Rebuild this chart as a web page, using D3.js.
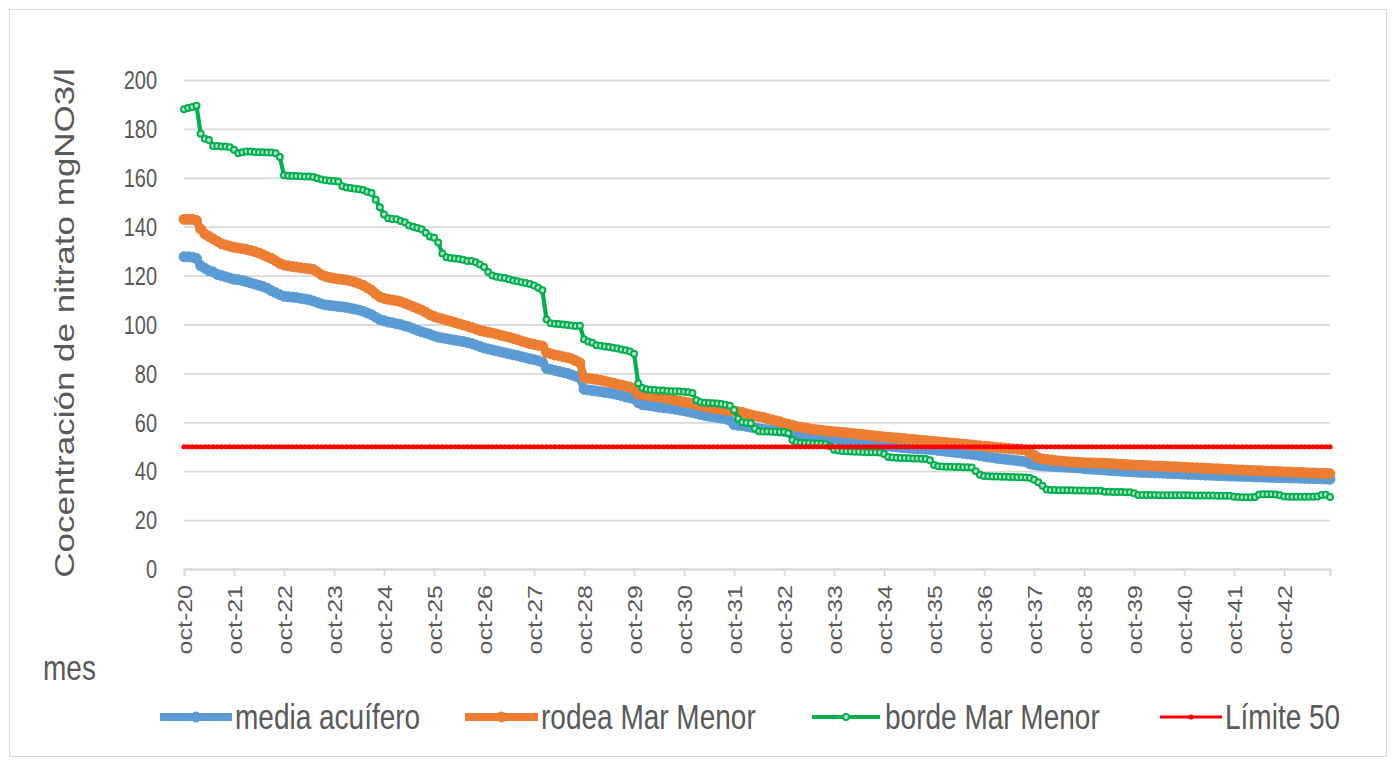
<!DOCTYPE html>
<html><head><meta charset="utf-8">
<script src="https://cdn.jsdelivr.net/npm/d3@7"></script>
<style>
body{margin:0;background:#fff}
svg{display:block}
text{font-family:"Liberation Sans",Arial,sans-serif;fill:#595959}
</style>
</head><body>
<svg id="chart" width="1396" height="766"></svg>
<script>
// ---- data (monthly, oct-2020 .. sep-2043) ----
const yearLabels = ["oct-20","oct-21","oct-22","oct-23","oct-24","oct-25","oct-26","oct-27","oct-28","oct-29","oct-30","oct-31","oct-32","oct-33","oct-34","oct-35","oct-36","oct-37","oct-38","oct-39","oct-40","oct-41","oct-42"];
const yTicks = [0,20,40,60,80,100,120,140,160,180,200];
const seriesNames = ["media acuífero","rodea Mar Menor","borde Mar Menor","Límite 50"];
const limite = 50;

const mediaAcuifero = [
127.7,127.7,127.5,127.0,124.0,123.0,122.0,121.5,120.5,120.0,119.5,119.0,
118.5,118.3,118.0,117.5,117.0,116.5,116.0,115.5,114.8,113.8,113.0,112.2,
111.5,111.4,111.2,111.0,110.7,110.4,110.1,109.6,109.0,108.4,108.0,107.8,
107.6,107.4,107.2,107.0,106.6,106.3,105.9,105.4,104.7,104.0,103.0,102.0,
101.5,101.0,100.7,100.3,100.0,99.4,99.0,98.3,97.6,97.0,96.5,96.0,
95.3,94.8,94.5,94.2,93.9,93.6,93.3,93.0,92.6,92.2,91.6,91.0,
90.4,90.0,89.6,89.2,88.8,88.4,88.0,87.6,87.3,86.8,86.4,86.0,
85.6,85.2,84.6,82.0,81.6,81.2,80.8,80.4,80.0,79.4,78.8,78.2,
73.5,73.2,73.0,72.8,72.5,72.2,72.0,71.7,71.3,70.9,70.4,70.0,
69.6,68.0,67.2,67.0,66.8,66.5,66.2,66.0,65.8,65.6,65.3,65.0,
64.7,64.3,64.0,63.6,63.2,62.8,62.5,62.2,62.0,61.7,61.4,60.8,
59.0,58.8,58.6,58.3,58.0,57.7,57.4,57.2,57.0,56.8,56.6,56.4,
56.2,56.0,55.3,55.0,54.8,54.6,54.4,54.2,54.0,53.8,53.5,53.3,
53.2,52.9,52.6,52.4,52.2,52.0,51.8,51.6,51.4,51.2,51.0,50.8,
50.5,50.3,50.1,49.9,49.7,49.6,49.4,49.3,49.2,49.1,49.0,48.9,
48.7,48.5,48.3,48.1,47.9,47.7,47.5,47.3,47.1,46.9,46.7,46.4,
46.1,45.8,45.6,45.3,45.1,44.9,44.7,44.5,44.3,44.1,43.9,43.0,
42.6,42.4,42.2,42.1,42.0,41.9,41.8,41.7,41.6,41.5,41.4,41.3,
41.0,40.9,40.8,40.7,40.6,40.5,40.3,40.2,40.1,40.0,39.9,39.8,
39.7,39.6,39.5,39.5,39.4,39.3,39.3,39.2,39.1,39.0,39.0,38.9,
38.8,38.7,38.7,38.6,38.5,38.4,38.4,38.3,38.2,38.2,38.1,38.0,
38.0,37.9,37.9,37.8,37.8,37.7,37.6,37.6,37.5,37.5,37.4,37.4,
37.3,37.3,37.2,37.2,37.1,37.1,37.0,37.0,36.9,36.9,36.8,36.7
];

const rodeaMarMenor = [
143.0,143.0,143.0,142.5,139.0,137.0,136.0,135.0,134.0,133.0,132.5,132.0,
131.6,131.3,131.0,130.7,130.3,129.8,129.2,128.5,127.7,127.0,126.0,125.0,
124.3,124.0,123.7,123.5,123.2,123.0,122.8,122.5,121.5,120.3,119.6,119.2,
118.9,118.6,118.4,118.2,117.8,117.3,116.7,116.0,115.0,114.0,112.5,111.3,
110.7,110.3,110.0,109.7,109.3,108.7,108.0,107.3,106.6,105.9,105.0,104.0,
103.3,102.7,102.3,101.8,101.3,100.8,100.3,99.8,99.3,98.8,98.2,97.6,
97.2,96.8,96.5,96.1,95.6,95.2,94.8,94.3,93.8,93.2,92.7,92.2,
91.8,91.5,91.2,88.5,88.0,87.5,87.2,86.8,86.4,86.0,85.2,84.3,
78.3,78.0,77.7,77.5,77.2,76.8,76.4,76.0,75.6,75.2,74.8,74.4,
73.5,71.5,71.2,71.0,70.8,70.6,70.4,70.1,69.7,69.3,68.9,68.6,
68.3,68.0,67.6,67.2,66.8,66.4,66.1,65.8,65.5,65.2,65.0,64.8,
64.6,64.3,64.0,63.5,63.0,62.6,62.3,62.0,61.5,61.0,60.6,60.2,
59.6,59.2,58.8,58.3,58.0,57.7,57.4,57.1,56.9,56.7,56.5,56.3,
56.1,56.0,55.8,55.7,55.5,55.3,55.1,55.0,54.8,54.6,54.4,54.2,
54.0,53.9,53.7,53.6,53.4,53.3,53.1,53.0,52.8,52.6,52.5,52.3,
52.1,52.0,51.8,51.7,51.5,51.4,51.2,51.0,50.9,50.7,50.5,50.4,
50.2,50.1,49.9,49.7,49.6,49.4,49.3,49.1,49.0,48.8,48.6,47.5,
46.5,45.5,45.0,44.8,44.6,44.4,44.2,44.0,43.9,43.8,43.7,43.6,
43.5,43.4,43.4,43.3,43.3,43.2,43.1,43.0,42.9,42.8,42.7,42.6,
42.5,42.4,42.4,42.3,42.2,42.1,42.1,42.0,41.9,41.8,41.8,41.7,
41.6,41.5,41.4,41.4,41.3,41.2,41.1,41.0,41.0,40.9,40.8,40.7,
40.6,40.5,40.5,40.4,40.3,40.2,40.2,40.1,40.0,39.9,39.9,39.8,
39.7,39.7,39.6,39.5,39.5,39.4,39.3,39.3,39.2,39.1,39.1,39.0
];

const bordeMarMenor = [
188.0,188.5,189.0,189.5,178.0,176.0,175.5,173.0,173.0,172.8,172.8,172.5,
171.5,170.0,170.5,170.8,170.8,170.6,170.5,170.5,170.3,170.3,170.0,168.5,
161.0,160.8,160.7,160.7,160.6,160.5,160.5,160.3,159.8,159.3,159.0,158.8,
158.7,158.5,156.5,156.0,155.8,155.5,155.3,155.0,154.3,153.8,151.0,148.0,
145.0,143.5,143.2,143.0,142.3,141.8,140.5,140.0,139.5,139.0,137.5,136.0,
135.5,133.5,129.0,127.5,127.2,127.0,126.8,126.5,126.0,126.0,125.5,124.5,
123.5,121.5,120.0,119.5,119.2,119.0,118.5,118.0,117.7,117.3,117.0,116.6,
116.0,115.0,114.0,102.0,100.5,100.3,100.2,100.0,99.8,99.6,99.4,99.5,
94.0,93.0,92.5,91.5,91.3,91.0,90.8,90.5,90.2,89.8,89.5,89.0,
88.0,76.0,74.0,73.5,73.3,73.2,73.0,73.0,72.8,72.7,72.7,72.6,
72.5,72.3,72.0,69.0,68.2,68.0,67.9,67.8,67.7,67.5,67.2,66.8,
65.0,61.5,60.0,59.8,59.6,57.5,56.3,56.2,56.2,56.1,56.1,56.0,
56.0,55.5,52.8,51.8,51.6,51.5,51.5,51.4,51.3,51.2,51.0,50.2,
48.8,48.5,48.3,48.2,48.1,48.0,48.0,47.9,47.8,47.8,47.7,47.6,
47.0,45.8,45.6,45.5,45.4,45.4,45.3,45.2,45.2,45.1,45.0,44.5,
42.5,42.0,41.9,41.8,41.8,41.7,41.7,41.6,41.6,41.5,40.0,38.5,
38.0,37.9,37.8,37.8,37.7,37.7,37.6,37.6,37.5,37.5,37.4,37.2,
36.5,35.5,34.0,32.5,32.3,32.3,32.2,32.2,32.2,32.2,32.1,32.1,
32.1,32.0,32.0,32.0,32.0,31.6,31.6,31.5,31.5,31.5,31.4,31.4,
31.0,30.3,30.3,30.3,30.3,30.3,30.2,30.2,30.2,30.2,30.2,30.2,
30.2,30.2,30.1,30.1,30.1,30.1,30.1,30.1,30.0,30.0,30.0,30.0,
29.5,29.4,29.3,29.3,29.3,29.4,30.5,30.6,30.6,30.6,30.5,30.2,
29.7,29.6,29.6,29.6,29.6,29.6,29.6,29.6,29.7,30.3,30.4,29.4
];

// ---- layout ----
const svg = d3.select("#chart");
const W = 1396, H = 766;
const plot = {left:184, right:1330, top:80, bottom:569};
const STRETCH = "scale(1,1.25)";
const grid = "#d9d9d9";
const colors = ["#5B9BD5","#ED7D31","#00B050","#FF0000"];
const greenFill = "#b9e2c5";

svg.append("rect").attr("x",9.5).attr("y",9.5).attr("width",W-19).attr("height",H-19)
  .attr("fill","#fff").attr("stroke","#d9d9d9").attr("stroke-width",1);

const n = mediaAcuifero.length;
const x = d3.scaleLinear().domain([0, n-1]).range([plot.left, plot.right]);
const y = d3.scaleLinear().domain([0, 200]).range([plot.bottom, plot.top]);

// y axis with gridlines
const yAxis = svg.append("g").attr("transform",`translate(${plot.left},0)`)
  .call(d3.axisLeft(y).tickValues(yTicks).tickSize(-(plot.right-plot.left)).tickPadding(27));
yAxis.select(".domain").remove();
yAxis.selectAll(".tick line").attr("stroke",grid).attr("stroke-width",1.8);
yAxis.selectAll(".tick text").attr("font-size",20).attr("dy","0.35em")
  .attr("fill","#595959").attr("transform",STRETCH);

// x axis
const tickIdx = yearLabels.map((d,i)=>i*12).concat([n-1]);
const xAxis = svg.append("g").attr("transform",`translate(0,${plot.bottom})`)
  .call(d3.axisBottom(x).tickValues(tickIdx).tickSize(7)
    .tickFormat(d => d % 12 === 0 ? yearLabels[d/12] : ""));
xAxis.select(".domain").attr("stroke",grid).attr("stroke-width",1.8);
xAxis.selectAll(".tick line").attr("stroke",grid).attr("stroke-width",1.8);
xAxis.selectAll(".tick text").attr("font-size",20).attr("x",0).attr("y",0).attr("dy","0.35em")
  .attr("text-anchor","end").attr("fill","#595959")
  .attr("transform","translate(0,16) scale(1,1.25) rotate(-90)");

// axis titles
svg.append("text").attr("font-size",28).attr("text-anchor","middle")
  .attr("transform","translate(74,323) scale(1,1.25) rotate(-90)")
  .text("Cocentración de nitrato mgNO3/l");
svg.append("text").attr("font-size",28)
  .attr("transform","translate(43,680) scale(1,1.25)").text("mes");

// series
const line = d3.line().x((d,i)=>x(i)).y(d=>y(d));
const styles = [
  {data:mediaAcuifero, c:colors[0], w:8, r:5, fill:colors[0], sw:1},
  {data:rodeaMarMenor, c:colors[1], w:8, r:5, fill:colors[1], sw:1},
  {data:bordeMarMenor, c:colors[2], w:4.2, r:3, fill:greenFill, sw:2},
];
styles.forEach(s=>{
  const g = svg.append("g");
  g.append("path").datum(s.data).attr("d",line).attr("fill","none")
    .attr("stroke",s.c).attr("stroke-width",s.w).attr("stroke-linejoin","round");
  g.selectAll("circle").data(s.data).join("circle")
    .attr("cx",(d,i)=>x(i)).attr("cy",d=>y(d)).attr("r",s.r)
    .attr("fill",s.fill).attr("stroke",s.c).attr("stroke-width",s.sw);
});
// límite 50
const gl = svg.append("g");
gl.append("line").attr("x1",x(0)).attr("x2",x(n-1)).attr("y1",y(limite)).attr("y2",y(limite))
  .attr("stroke",colors[3]).attr("stroke-width",3);
gl.selectAll("circle").data(d3.range(n)).join("circle")
  .attr("cx",i=>x(i)).attr("cy",y(limite)).attr("r",2.6).attr("fill",colors[3]);

// legend
const legY = 717;
const legItems = [
  {x0:160, x1:232, tx:235, w:8, r:5, fill:colors[0], sw:1},
  {x0:465, x1:538, tx:541, w:8, r:5, fill:colors[1], sw:1},
  {x0:812, x1:880, tx:885, w:4.2, r:3, fill:greenFill, sw:2},
  {x0:1160, x1:1222, tx:1225, w:3, r:2.6, fill:colors[3], sw:0},
];
legItems.forEach((L,i)=>{
  const g = svg.append("g");
  g.append("line").attr("x1",L.x0).attr("x2",L.x1).attr("y1",legY).attr("y2",legY)
    .attr("stroke",colors[i]).attr("stroke-width",L.w);
  g.append("circle").attr("cx",(L.x0+L.x1)/2).attr("cy",legY).attr("r",L.r)
    .attr("fill",L.fill).attr("stroke",colors[i]).attr("stroke-width",L.sw);
  g.append("text").attr("font-size",28).attr("dy","0.35em")
    .attr("transform",`translate(${L.tx},${legY}) scale(1,1.25)`).text(seriesNames[i]);
});
</script>
</body></html>
